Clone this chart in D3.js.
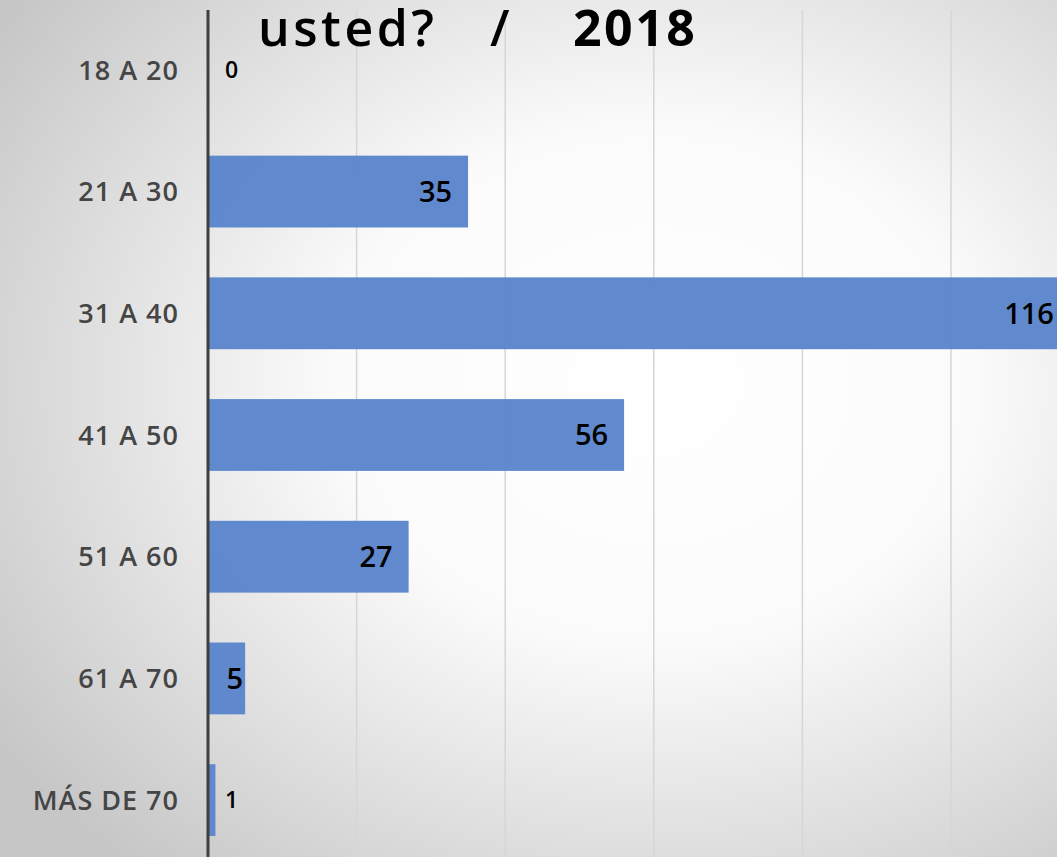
<!DOCTYPE html>
<html>
<head>
<meta charset="utf-8">
<script src="https://cdn.jsdelivr.net/npm/d3@7/dist/d3.min.js"></script>
<style>
  html, body { margin: 0; padding: 0; overflow: hidden; }
  svg { display: block; }
</style>
</head>
<body>
<div id="chart"></div>
<script>
// data
var categories = ["18 A 20", "21 A 30", "31 A 40", "41 A 50", "51 A 60", "61 A 70", "MÁS DE 70"];
var values = [0, 35, 116, 56, 27, 5, 1];
var gridTicks = [0, 20, 40, 60, 80, 100, 120];
var titleParts = ["usted?", "/", "2018"];

var width = 1057;
var height = 857;
var margin = { top: 9, left: 208 };
var font = '"Open Sans", "Noto Sans", sans-serif';

var svg = d3.select('#chart').append('svg')
  .attr('width', width)
  .attr('height', height);

// background: soft radial light
var defs = svg.append('defs');
var grad = defs.append('radialGradient')
  .attr('id', 'bg')
  .attr('cx', '62%').attr('cy', '45%').attr('r', '75%');
grad.append('stop').attr('offset', '0%').attr('stop-color', '#ffffff');
grad.append('stop').attr('offset', '40%').attr('stop-color', '#fbfbfb');
grad.append('stop').attr('offset', '100%').attr('stop-color', '#c6c6c6');
svg.append('rect').attr('width', width).attr('height', height).attr('fill', 'url(#bg)');

var x = d3.scaleLinear().domain([0, 20]).range([margin.left, margin.left + 148.6]);
var y = d3.scaleBand().domain(categories).range([margin.top, 861]).paddingInner(0.41).paddingOuter(0.205);

// gridlines
svg.append('g').selectAll('line')
  .data(gridTicks.slice(1))
  .join('line')
  .attr('x1', function (d) { return x(d); })
  .attr('x2', function (d) { return x(d); })
  .attr('y1', 10)
  .attr('y2', height)
  .attr('stroke', '#d6d6d6')
  .attr('stroke-width', 1.5);

// bars
svg.append('g').selectAll('rect')
  .data(values)
  .join('rect')
  .attr('x', x(0))
  .attr('y', function (d, i) { return y(categories[i]); })
  .attr('width', function (d) { return x(d) - x(0); })
  .attr('height', y.bandwidth())
  .attr('fill', '#5a84cc')
  .attr('fill-opacity', 0.96);

// axis line (left)
svg.append('line')
  .attr('x1', x(0)).attr('x2', x(0))
  .attr('y1', 10).attr('y2', height)
  .attr('stroke', '#3f3f3f')
  .attr('stroke-width', 3);

// category labels
svg.append('g').selectAll('text')
  .data(categories)
  .join('text')
  .attr('x', 179)
  .attr('y', function (d) { return y(d) + y.bandwidth() / 2; })
  .attr('dy', '0.36em')
  .attr('text-anchor', 'end')
  .attr('fill', '#454545')
  .attr('font-family', font)
  .attr('font-weight', 600)
  .attr('font-size', '27px')
  .attr('letter-spacing', '1px')
  .text(function (d) { return d; });

// value labels: inside end, or just outside when the bar is too short
svg.append('g').selectAll('text')
  .data(values)
  .join('text')
  .attr('x', function (d) {
    if (d < 3) return x(0) + 17;
    return Math.max(x(d) - 16, x(0) + 35);
  })
  .attr('y', function (d, i) { return y(categories[i]) + y.bandwidth() / 2; })
  .attr('dy', '0.36em')
  .attr('text-anchor', function (d) { return d < 3 ? 'start' : 'end'; })
  .attr('fill', '#000')
  .attr('font-family', font)
  .attr('font-weight', 600)
  .attr('font-size', function (d) { return d < 3 ? '23px' : '29px'; })
  .text(function (d) { return d; });

// title (top edge of the frame)
var title = svg.append('text')
  .attr('y', 46)
  .attr('fill', '#000')
  .attr('font-family', font)
  .attr('font-size', '50px');
title.append('tspan').attr('x', 258).attr('font-weight', 600).attr('letter-spacing', '3.5px').text(titleParts[0]);
title.append('tspan').attr('x', 490).attr('font-weight', 600).text(titleParts[1]);
title.append('tspan').attr('x', 573).attr('font-weight', 700).attr('letter-spacing', '2.5px').text(titleParts[2]);
</script>
</body>
</html>
